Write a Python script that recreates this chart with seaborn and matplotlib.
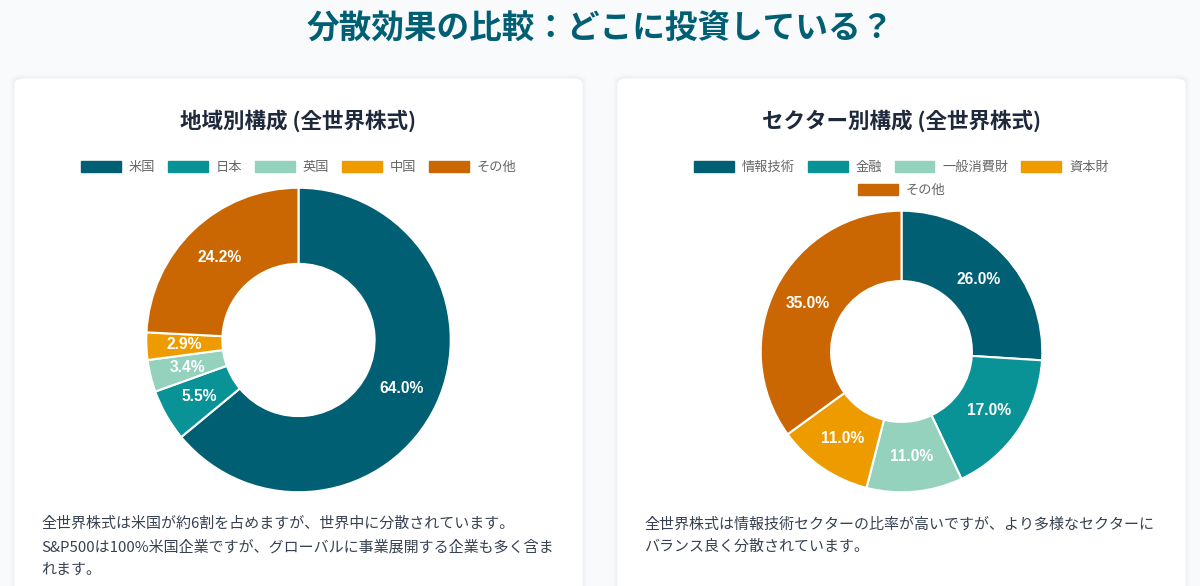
import matplotlib
matplotlib.use("Agg")
import matplotlib.pyplot as plt
from matplotlib.patches import FancyBboxPatch, Patch
import seaborn as sns

# ---------------- data ----------------
title = "分散効果の比較：どこに投資している？"

region_title = "地域別構成 (全世界株式)"
region_labels = ["米国", "日本", "英国", "中国", "その他"]
region_values = [64.0, 5.5, 3.4, 2.9, 24.2]
region_note = [
    "全世界株式は米国が約6割を占めますが、世界中に分散されています。",
    "S&P500は100%米国企業ですが、グローバルに事業展開する企業も多く含ま",
    "れます。",
]

sector_title = "セクター別構成 (全世界株式)"
sector_labels = ["情報技術", "金融", "一般消費財", "資本財", "その他"]
sector_values = [26.0, 17.0, 11.0, 11.0, 35.0]
sector_note = [
    "全世界株式は情報技術セクターの比率が高いですが、より多様なセクターに",
    "バランス良く分散されています。",
]

palette_hex = ["#005f73", "#0a9396", "#94d2bd", "#ee9b00", "#ca6702"]

# ---------------- style ----------------
sns.set_theme(style="white")
plt.rcParams["font.family"] = ["Noto Sans CJK JP", "DejaVu Sans"]
colors = sns.color_palette(palette_hex)

W, H = 1200, 586
fig = plt.figure(figsize=(W / 100, H / 100), dpi=100)
fig.patch.set_facecolor("#f8fafc")


def fx(x):
    return x / W


def fy(y):
    return 1 - y / H


# page title
fig.text(fx(600), fy(28), title, ha="center", va="center", fontsize=23.5,
         fontweight="bold", color="#005f73")

# cards
for (x0, x1) in [(14, 583), (617, 1186)]:
    for k, a in [(4, 0.02), (2, 0.03)]:
        fig.patches.append(FancyBboxPatch(
            (fx(x0 - k), fy(640)), fx(x1 - x0 + 2 * k), (640 - 78 + k) / H,
            boxstyle="round,pad=0,rounding_size=0.012", transform=fig.transFigure,
            facecolor="#64748b", edgecolor="none", alpha=a, zorder=-3))
    fig.patches.append(FancyBboxPatch(
        (fx(x0), fy(640)), fx(x1 - x0), (640 - 78) / H,
        boxstyle="round,pad=0,rounding_size=0.01", transform=fig.transFigure,
        facecolor="white", edgecolor="#eef1f5", linewidth=0.6, zorder=-2))


def donut(cx, cy, r, values, labels, card_title, note, legend_rows):
    ax = fig.add_axes([fx(cx - r), fy(cy + r), 2 * r / W, 2 * r / H])
    ax.set_zorder(2)
    ax.patch.set_alpha(0)
    wedges, _, autotexts = ax.pie(
        values, colors=colors, startangle=90, counterclock=False,
        autopct="%.1f%%", pctdistance=0.75, radius=1.0,
        wedgeprops=dict(width=0.5, edgecolor="white", linewidth=1.5),
        textprops=dict(color="white", fontsize=11.25, fontweight="bold",
                       family=["Liberation Sans", "DejaVu Sans"]))
    ax.set_xlim(-1.005, 1.005)
    ax.set_ylim(-1.005, 1.005)
    ax.set_aspect("equal")
    ax.axis("off")

    fig.text(fx(cx), fy(121), card_title, ha="center", va="center",
             fontsize=15.5, fontweight="bold", color="#1e293b")

    handles = [Patch(facecolor=c, edgecolor=c) for c in colors]
    start = 0
    for row_y, n in legend_rows:
        leg = fig.legend(handles[start:start + n], labels[start:start + n],
                         loc="center", bbox_to_anchor=(fx(cx), fy(row_y)),
                         ncol=n, frameon=False, fontsize=9.5,
                         handlelength=3.03, handleheight=0.95,
                         handletextpad=0.6, columnspacing=0.95,
                         borderpad=0, borderaxespad=0)
        for t in leg.get_texts():
            t.set_color("#666666")
        start += n

    x_left = cx - 257
    for i, line in enumerate(note):
        fig.text(fx(x_left), fy(524 + 23 * i), line, ha="left", va="center",
                 fontsize=10.8, color="#374151")


donut(298.5, 340, 153, region_values, region_labels, region_title,
      region_note, [(167.5, 5)])
donut(901.5, 351.5, 141.5, sector_values, sector_labels, sector_title,
      sector_note, [(167.5, 4), (190.5, 1)])

fig.savefig("out.png", dpi=100, facecolor=fig.get_facecolor())
